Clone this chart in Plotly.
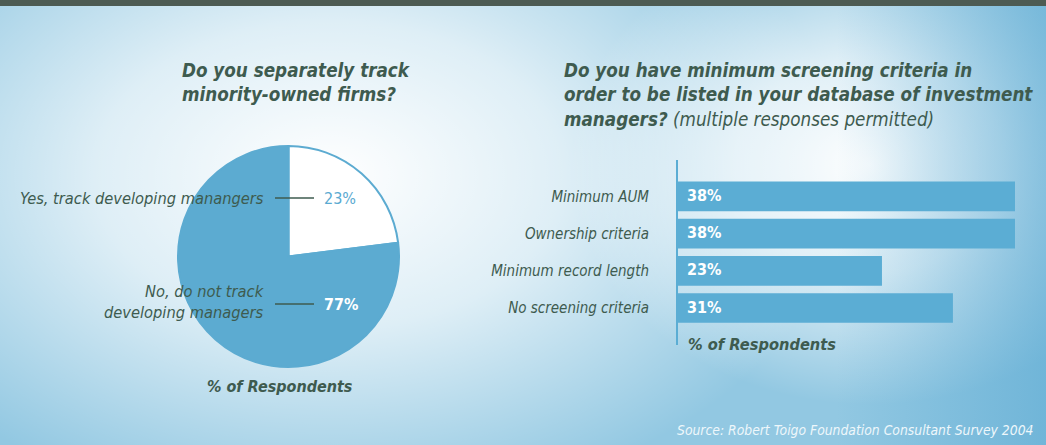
import base64
import plotly.graph_objects as go

# data
pie_labels = ["Yes, track developing manangers", "No, do not track<br>developing managers"]
pie_values = [23, 77]

bar_categories = ["Minimum AUM", "Ownership criteria", "Minimum record length", "No screening criteria"]
bar_values = [38, 38, 23, 31]

W, H = 1046, 445
TXT = "#3e5b4f"
BLUE = "#5badd4"
FONT = "Liberation Sans Narrow, DejaVu Sans Condensed, Arial Narrow, sans-serif"


def px(x):
    return x / W


def py(y):
    return 1 - y / H


# background: soft blue with light patches
svg = f"""<svg xmlns='http://www.w3.org/2000/svg' width='{W}' height='{H}'>
<defs>
<radialGradient id='w'>
<stop offset='0' stop-color='#ffffff' stop-opacity='1'/>
<stop offset='0.45' stop-color='#ffffff' stop-opacity='0.7'/>
<stop offset='1' stop-color='#ffffff' stop-opacity='0'/>
</radialGradient>
<linearGradient id='r' x1='0' x2='1' y1='0' y2='0'>
<stop offset='0.8' stop-color='#5aa9d2' stop-opacity='0'/>
<stop offset='1' stop-color='#5aa9d2' stop-opacity='0.6'/>
</linearGradient>
</defs>
<rect width='{W}' height='{H}' fill='#92c8e2'/>
<ellipse cx='330' cy='175' rx='520' ry='340' fill='url(#w)'/>
<ellipse cx='870' cy='165' rx='300' ry='240' fill='url(#w)'/>
<rect width='{W}' height='{H}' fill='url(#r)'/>
</svg>"""
bg = "data:image/svg+xml;base64," + base64.b64encode(svg.encode()).decode()

fig = go.Figure()

fig.add_trace(go.Pie(
    labels=pie_labels,
    values=pie_values,
    sort=False,
    direction="clockwise",
    rotation=0,
    textinfo="none",
    hoverinfo="none",
    marker=dict(colors=["#ffffff", "#5cabd1"], line=dict(color="#5cabd1", width=2)),
    domain=dict(x=[px(178), px(399)], y=[py(367), py(146)]),
    showlegend=False,
))

fig.add_trace(go.Bar(
    x=bar_values,
    y=bar_categories,
    orientation="h",
    marker=dict(color=BLUE, line=dict(width=0)),
    width=0.8,
    hoverinfo="none",
    showlegend=False,
))

# percentage labels inside bars
for cat, v in zip(bar_categories, bar_values):
    fig.add_annotation(x=0, y=cat, xref="x", yref="y", text=f"{v}%", showarrow=False,
                       xanchor="left", xshift=7, yshift=1,
                       font=dict(family=FONT, size=16, color="white", weight="bold"))

# pie labels and leaders
pie_rows = [(198, "#5aaad1", "normal", 198), (302, "white", "bold", 304)]
for (yy, col, wt, ly), lab, v in zip(pie_rows, pie_labels, pie_values):
    fig.add_annotation(x=px(266), y=py(yy), xref="paper", yref="paper", text=lab,
                       showarrow=False, xanchor="right", yanchor="middle", align="right",
                       font=dict(family=FONT, size=16.3, color=TXT, style="italic"))
    fig.add_shape(type="line", xref="paper", yref="paper", x0=px(275), x1=px(314),
                  y0=py(ly), y1=py(ly), line=dict(color=TXT, width=1.5))
    fig.add_annotation(x=px(322), y=py(ly), xref="paper", yref="paper",
                       text=f"{v}%", showarrow=False, xanchor="left", yanchor="middle",
                       font=dict(family=FONT, size=16, color=col, weight=wt))

# titles
fig.add_annotation(x=px(180), y=py(58), xref="paper", yref="paper",
                   text="Do you separately track<br>minority-owned firms?",
                   showarrow=False, xanchor="left", yanchor="top", align="left",
                   font=dict(family=FONT, size=18.7, color=TXT, style="italic", weight="bold"))
fig.add_annotation(x=px(562), y=py(58), xref="paper", yref="paper",
                   text="<b>Do you have minimum screening criteria in<br>order to be listed in your database of investment<br>managers?</b> (multiple responses permitted)",
                   showarrow=False, xanchor="left", yanchor="top", align="left",
                   font=dict(family=FONT, size=18.7, color=TXT, style="italic"))

fig.add_annotation(x=px(280), y=py(386), xref="paper", yref="paper", text="% of Respondents",
                   showarrow=False, xanchor="center", yanchor="middle",
                   font=dict(family=FONT, size=16, color=TXT, style="italic", weight="bold"))
fig.add_annotation(x=px(686), y=py(344), xref="paper", yref="paper", text="% of Respondents",
                   showarrow=False, xanchor="left", yanchor="middle",
                   font=dict(family=FONT, size=16.3, color=TXT, style="italic", weight="bold"))
fig.add_annotation(x=px(1036), y=py(430), xref="paper", yref="paper",
                   text="Source: Robert Toigo Foundation Consultant Survey 2004",
                   showarrow=False, xanchor="right", yanchor="middle",
                   font=dict(family=FONT, size=13.8, color="#eef7fb", style="italic"))

# dark strip on top
fig.add_shape(type="rect", xref="paper", yref="paper", x0=0, x1=1, y0=py(6), y1=1,
              line=dict(width=0), fillcolor="#4d5b53", layer="above")

fig.update_layout(
    width=W, height=H,
    margin=dict(l=0, r=0, t=0, b=0),
    paper_bgcolor="#92c8e2",
    plot_bgcolor="rgba(0,0,0,0)",
    images=[dict(source=bg, xref="paper", yref="paper", x=0, y=1, sizex=1, sizey=1,
                 sizing="stretch", layer="below", xanchor="left", yanchor="top")],
    xaxis=dict(domain=[px(678), px(1015)], range=[0, 38], visible=False, fixedrange=True),
    yaxis=dict(domain=[py(345), py(160)], range=[3.995, -0.98], showline=True,
               linecolor=BLUE, linewidth=2, showgrid=False, zeroline=False,
               ticks="outside", ticklen=24, tickcolor="rgba(0,0,0,0)",
               tickfont=dict(family=FONT, size=15, color=TXT, style="italic")),
    bargap=0.2,
)

fig.write_html("out.html", config={"displayModeBar": False},
               post_script="document.body.style.margin='0';")
